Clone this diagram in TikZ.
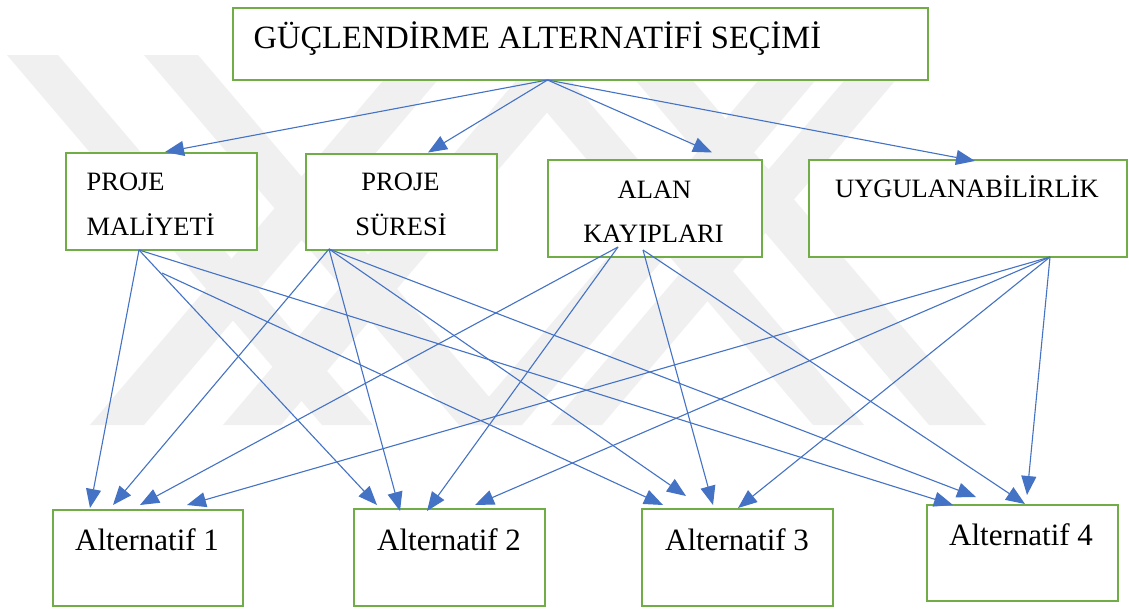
\documentclass[tikz,border=0pt]{standalone}
\usepackage{fontspec}
\setmainfont{Liberation Serif}
\usetikzlibrary{arrows.meta}
\definecolor{boxgreen}{HTML}{70AD47}
\definecolor{linkblue}{HTML}{4472C4}
\definecolor{wmark}{HTML}{F0F0F0}
\tikzset{
  box/.style={draw=boxgreen, line width=2.5pt, fill=white, rectangle, inner sep=0pt},
  link/.style={draw=linkblue, line width=1.1pt, -{Triangle[length=19pt,width=15pt]}},
  lbl/.style={inner sep=0pt, anchor=base west},
  clbl/.style={inner sep=0pt, anchor=base},
  band/.style={fill=wmark, draw=none},
  big/.style={font=\fontsize{32.5}{32.5}\selectfont},
  mid/.style={font=\fontsize{26.5}{26.5}\selectfont},
  alt/.style={font=\fontsize{31}{31}\selectfont},
}
\begin{document}
\begin{tikzpicture}[x=1pt, y=-1pt]
\useasboundingbox (0,0) rectangle (1129,608);
\fill[white] (0,0) rectangle (1129,608);

% background emblem: light diagonal bands
\foreach \l/\r/\s in {7/58/315, 144/198/315, 405/459/-315, 538/596/-315,
                      498/549/315, 614/671/315, 780/837/-315, 866/917/-315}{
  \path[band] (\l,55) -- (\r,55) -- (\r+\s,425) -- (\l+\s,425) -- cycle;
}

% boxes
\node[box, minimum width=695pt, minimum height=72pt] (goal) at (580.5,44) {};
\node[box, minimum width=191pt, minimum height=97pt] (cost) at (161.5,201.5) {};
\node[box, minimum width=191pt, minimum height=96pt] (time) at (401.5,202) {};
\node[box, minimum width=214pt, minimum height=97pt] (area) at (655,208.5) {};
\node[box, minimum width=318pt, minimum height=97pt] (feas) at (968,208.5) {};
\node[box, minimum width=190pt, minimum height=96pt] (alt1) at (148,558) {};
\node[box, minimum width=191pt, minimum height=97pt] (alt2) at (449.5,557.5) {};
\node[box, minimum width=191pt, minimum height=97pt] (alt3) at (737.5,557.5) {};
\node[box, minimum width=191pt, minimum height=96pt] (alt4) at (1022.5,553) {};

% labels
\node[lbl, big] (goal-t) at (253.4,48.5) {GÜÇLENDİRME ALTERNATİFİ SEÇİMİ};
\node[lbl, mid] (cost-t1) at (86.4,190) {PROJE};
\node[lbl, mid] (cost-t2) at (86.4,235) {MALİYETİ};
\node[clbl, mid] (time-t1) at (400.5,190) {PROJE};
\node[clbl, mid] (time-t2) at (401,235) {SÜRESİ};
\node[clbl, mid] (area-t1) at (654.5,198) {ALAN};
\node[clbl, mid] (area-t2) at (653.5,242) {KAYIPLARI};
\node[lbl, mid] (feas-t) at (835,197) {UYGULANABİLİRLİK};
\node[lbl, alt] (alt1-t) at (75,550) {Alternatif 1};
\node[lbl, alt] (alt2-t) at (377,550) {Alternatif 2};
\node[lbl, alt] (alt3-t) at (665,550) {Alternatif 3};
\node[lbl, alt] (alt4-t) at (949,545) {Alternatif 4};

% connector ends
\coordinate (g-out) at (547.5,80);
\coordinate (cost-in) at (165,152);
\coordinate (time-in) at (428,152.5);
\coordinate (area-in) at (712,152.5);
\coordinate (feas-in) at (975,161);

\coordinate (cost-out) at (139,250);
\coordinate (cost-out2) at (162,273);
\coordinate (time-out) at (329,249);
\coordinate (area-out) at (618,247);
\coordinate (area-out2) at (643,250);
\coordinate (feas-out) at (1050,257);

\coordinate (a1-c) at (90,508);
\coordinate (a1-t) at (113,505);
\coordinate (a1-a) at (140,505);
\coordinate (a1-f) at (187,505);
\coordinate (a2-c) at (377,505);
\coordinate (a2-t) at (400,511);
\coordinate (a2-a) at (427,511);
\coordinate (a2-f) at (475,505);
\coordinate (a3-c) at (663,505);
\coordinate (a3-t) at (686,496);
\coordinate (a3-a) at (713,505);
\coordinate (a3-f) at (738,508);
\coordinate (a4-c) at (953,505);
\coordinate (a4-t) at (976,497);
\coordinate (a4-a) at (1025,504);
\coordinate (a4-f) at (1027,495);

% goal to criteria
\draw[link] (g-out) -- (cost-in);
\draw[link] (g-out) -- (time-in);
\draw[link] (g-out) -- (area-in);
\draw[link] (g-out) -- (feas-in);

% criteria to alternatives
\draw[link] (cost-out) -- (a1-c);
\draw[link] (cost-out) -- (a2-c);
\draw[link] (cost-out2) -- (a3-c);
\draw[link] (cost-out) -- (a4-c);
\draw[link] (time-out) -- (a1-t);
\draw[link] (time-out) -- (a2-t);
\draw[link] (time-out) -- (a3-t);
\draw[link] (time-out) -- (a4-t);
\draw[link] (area-out) -- (a1-a);
\draw[link] (area-out) -- (a2-a);
\draw[link] (area-out2) -- (a3-a);
\draw[link] (area-out2) -- (a4-a);
\draw[link] (feas-out) -- (a1-f);
\draw[link] (feas-out) -- (a2-f);
\draw[link] (feas-out) -- (a3-f);
\draw[link] (feas-out) -- (a4-f);
\end{tikzpicture}
\end{document}
